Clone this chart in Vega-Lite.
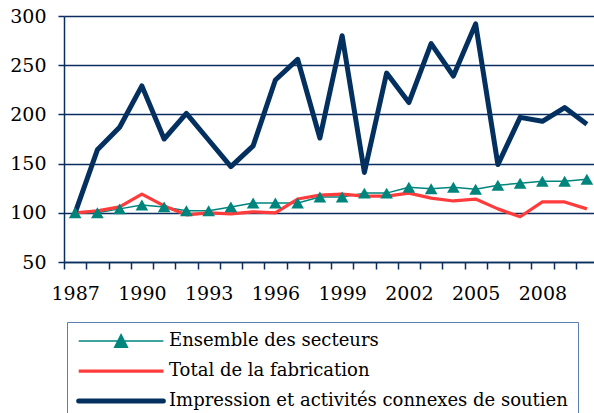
{
  "$schema": "https://vega.github.io/schema/vega-lite/v6.json",
  "width": 530,
  "height": 246,
  "autosize": {"type": "none"},
  "padding": {"left": 64, "top": 16, "right": 0, "bottom": 151},
  "background": "white",
  "config": {"view": {"stroke": null}, "font": "DejaVu Serif"},
  "datasets": {
    "series": [
      {"year": 1987, "series": "Ensemble des secteurs", "value": 100},
      {"year": 1988, "series": "Ensemble des secteurs", "value": 100},
      {"year": 1989, "series": "Ensemble des secteurs", "value": 104},
      {"year": 1990, "series": "Ensemble des secteurs", "value": 108},
      {"year": 1991, "series": "Ensemble des secteurs", "value": 106},
      {"year": 1992, "series": "Ensemble des secteurs", "value": 102},
      {"year": 1993, "series": "Ensemble des secteurs", "value": 102},
      {"year": 1994, "series": "Ensemble des secteurs", "value": 106},
      {"year": 1995, "series": "Ensemble des secteurs", "value": 110},
      {"year": 1996, "series": "Ensemble des secteurs", "value": 110},
      {"year": 1997, "series": "Ensemble des secteurs", "value": 110},
      {"year": 1998, "series": "Ensemble des secteurs", "value": 116},
      {"year": 1999, "series": "Ensemble des secteurs", "value": 116},
      {"year": 2000, "series": "Ensemble des secteurs", "value": 120},
      {"year": 2001, "series": "Ensemble des secteurs", "value": 120},
      {"year": 2002, "series": "Ensemble des secteurs", "value": 126},
      {"year": 2003, "series": "Ensemble des secteurs", "value": 124.5},
      {"year": 2004, "series": "Ensemble des secteurs", "value": 126},
      {"year": 2005, "series": "Ensemble des secteurs", "value": 124},
      {"year": 2006, "series": "Ensemble des secteurs", "value": 128},
      {"year": 2007, "series": "Ensemble des secteurs", "value": 130},
      {"year": 2008, "series": "Ensemble des secteurs", "value": 132},
      {"year": 2009, "series": "Ensemble des secteurs", "value": 132},
      {"year": 2010, "series": "Ensemble des secteurs", "value": 134},
      {"year": 1987, "series": "Total de la fabrication", "value": 100},
      {"year": 1988, "series": "Total de la fabrication", "value": 102},
      {"year": 1989, "series": "Total de la fabrication", "value": 106},
      {"year": 1990, "series": "Total de la fabrication", "value": 119},
      {"year": 1991, "series": "Total de la fabrication", "value": 107},
      {"year": 1992, "series": "Total de la fabrication", "value": 98},
      {"year": 1993, "series": "Total de la fabrication", "value": 100},
      {"year": 1994, "series": "Total de la fabrication", "value": 99},
      {"year": 1995, "series": "Total de la fabrication", "value": 101},
      {"year": 1996, "series": "Total de la fabrication", "value": 100},
      {"year": 1997, "series": "Total de la fabrication", "value": 114},
      {"year": 1998, "series": "Total de la fabrication", "value": 118},
      {"year": 1999, "series": "Total de la fabrication", "value": 119},
      {"year": 2000, "series": "Total de la fabrication", "value": 117},
      {"year": 2001, "series": "Total de la fabrication", "value": 117},
      {"year": 2002, "series": "Total de la fabrication", "value": 120},
      {"year": 2003, "series": "Total de la fabrication", "value": 115},
      {"year": 2004, "series": "Total de la fabrication", "value": 112},
      {"year": 2005, "series": "Total de la fabrication", "value": 114},
      {"year": 2006, "series": "Total de la fabrication", "value": 104},
      {"year": 2007, "series": "Total de la fabrication", "value": 96},
      {"year": 2008, "series": "Total de la fabrication", "value": 111},
      {"year": 2009, "series": "Total de la fabrication", "value": 111},
      {"year": 2010, "series": "Total de la fabrication", "value": 104},
      {"year": 1987, "series": "Impression et activités connexes de soutien", "value": 100},
      {"year": 1988, "series": "Impression et activités connexes de soutien", "value": 164},
      {"year": 1989, "series": "Impression et activités connexes de soutien", "value": 187},
      {"year": 1990, "series": "Impression et activités connexes de soutien", "value": 229},
      {"year": 1991, "series": "Impression et activités connexes de soutien", "value": 175},
      {"year": 1992, "series": "Impression et activités connexes de soutien", "value": 201},
      {"year": 1993, "series": "Impression et activités connexes de soutien", "value": 174},
      {"year": 1994, "series": "Impression et activités connexes de soutien", "value": 147},
      {"year": 1995, "series": "Impression et activités connexes de soutien", "value": 168},
      {"year": 1996, "series": "Impression et activités connexes de soutien", "value": 235},
      {"year": 1997, "series": "Impression et activités connexes de soutien", "value": 256},
      {"year": 1998, "series": "Impression et activités connexes de soutien", "value": 176},
      {"year": 1999, "series": "Impression et activités connexes de soutien", "value": 280},
      {"year": 2000, "series": "Impression et activités connexes de soutien", "value": 141},
      {"year": 2001, "series": "Impression et activités connexes de soutien", "value": 242},
      {"year": 2002, "series": "Impression et activités connexes de soutien", "value": 212},
      {"year": 2003, "series": "Impression et activités connexes de soutien", "value": 272},
      {"year": 2004, "series": "Impression et activités connexes de soutien", "value": 239},
      {"year": 2005, "series": "Impression et activités connexes de soutien", "value": 292},
      {"year": 2006, "series": "Impression et activités connexes de soutien", "value": 149},
      {"year": 2007, "series": "Impression et activités connexes de soutien", "value": 197},
      {"year": 2008, "series": "Impression et activités connexes de soutien", "value": 193},
      {"year": 2009, "series": "Impression et activités connexes de soutien", "value": 207},
      {"year": 2010, "series": "Impression et activités connexes de soutien", "value": 190}
    ]
  },
  "data": {"name": "series"},
  "encoding": {
    "x": {
      "field": "year",
      "type": "ordinal",
      "bandPosition": 0.5,
      "scale": {"type": "band", "range": [0, 534], "paddingInner": 0, "paddingOuter": 0},
      "axis": {
        "title": null,
        "tickBand": "extent",
        "labelExpr": "(datum.value - 1987) % 3 == 0 ? datum.label : ''",
        "labelAngle": 0,
        "labelOverlap": false,
        "labelFont": "DejaVu Serif",
        "labelFontSize": 19,
        "labelColor": "black",
        "labelPadding": 15,
        "domainColor": "#0a2f5e",
        "domainWidth": 1.5,
        "tickColor": "#0a2f5e",
        "tickWidth": 1.5,
        "tickSize": 7,
        "grid": false
      }
    },
    "y": {
      "field": "value",
      "type": "quantitative",
      "scale": {"domain": [50, 300], "nice": false, "zero": false},
      "axis": {
        "title": null,
        "values": [50, 100, 150, 200, 250, 300],
        "grid": true,
        "gridColor": "#0a2f5e",
        "gridWidth": 1.5,
        "gridOpacity": 1,
        "domainColor": "#0a2f5e",
        "domainWidth": 1.5,
        "tickColor": "#0a2f5e",
        "tickWidth": 1.5,
        "tickSize": 6,
        "labelFont": "DejaVu Serif",
        "labelFontSize": 19,
        "labelColor": "black",
        "labelPadding": 12
      }
    }
  },
  "layer": [
    {
      "mark": {"type": "line", "strokeJoin": "round"},
      "encoding": {
        "color": {
          "field": "series",
          "type": "nominal",
          "sort": ["Ensemble des secteurs", "Total de la fabrication", "Impression et activités connexes de soutien"],
          "scale": {
            "domain": ["Ensemble des secteurs", "Total de la fabrication", "Impression et activités connexes de soutien"],
            "range": ["#00857d", "#ff3b3b", "#03305f"]
          },
          "legend": {
            "title": null,
            "orient": "none",
            "legendX": 3,
            "legendY": 306,
            "direction": "vertical",
            "labelFont": "DejaVu Serif",
            "labelFontSize": 18,
            "labelColor": "black",
            "labelLimit": 0,
            "strokeColor": "#5a7eb0",
            "fillColor": "white",
            "padding": 10,
            "symbolSize": 112,
            "symbolType": "stroke",
            "symbolOffset": -2,
            "labelOffset": 76,
            "rowPadding": 11,
            "encode": {
              "symbols": {
                "update": {
                  "shape": {"signal": "datum.value == 'Ensemble des secteurs' ? 'M-1,0H15M7,-1.2L8.2,1.2L5.8,1.2Z' : 'M-1,0H15'"},
                  "strokeWidth": {"signal": "datum.value == 'Ensemble des secteurs' ? 1.5 : 6"},
                  "strokeCap": {"signal": "datum.value == 'Impression et activités connexes de soutien' ? 'round' : 'butt'"},
                  "fill": {"signal": "scale('color', datum.value)"},
                  "fillOpacity": {"value": 1},
                  "opacity": {"value": 1}
                }
              }
            }
          }
        },
        "strokeWidth": {
          "field": "series",
          "type": "nominal",
          "scale": {
            "domain": ["Ensemble des secteurs", "Total de la fabrication", "Impression et activités connexes de soutien"],
            "range": [1.5, 5, 6]
          },
          "legend": null
        }
      }
    },
    {
      "transform": [{"filter": "datum.series == 'Ensemble des secteurs'"}],
      "mark": {"type": "point", "shape": "triangle-up", "filled": true, "size": 160, "opacity": 1, "color": "#00857d"}
    }
  ]
}
